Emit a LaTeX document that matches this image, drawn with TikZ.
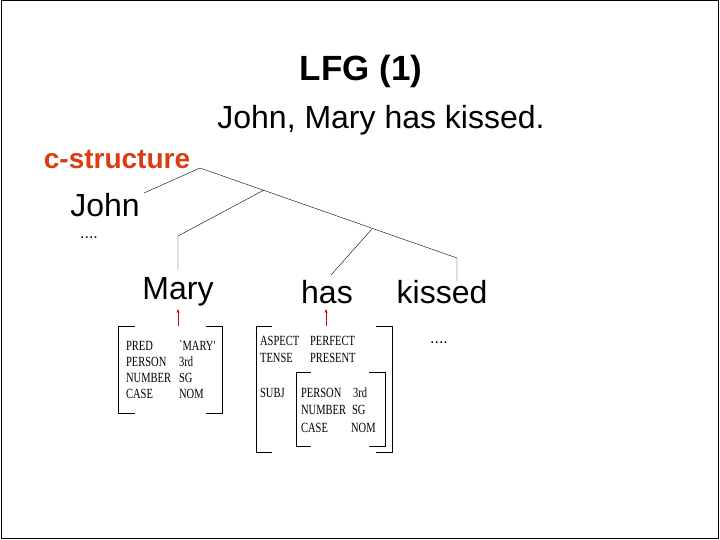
\documentclass[tikz,border=0pt]{standalone}
\usepackage{fontspec}
\usetikzlibrary{arrows.meta}
\setmainfont{Liberation Sans}
\newfontfamily\fsfont{Liberation Serif}
\begin{document}
\begin{tikzpicture}[x=1pt,y=-1pt,
  big/.style={font=\fontsize{32}{34}\selectfont, inner sep=0},
  fs/.style={font=\fsfont\fontsize{14}{15}\selectfont, inner sep=0, anchor=west, xscale=0.75},
  brk/.style={line width=0.9pt},
  redarrow/.style={draw=red!80!black, -{Stealth[length=4pt]}, line width=0.8pt}]
\useasboundingbox (0,0) rectangle (720,540);
\draw[line width=1pt] (1,1) rectangle (718,538);
\node[font=\bfseries\fontsize{35}{37}\selectfont] (title) at (361,71) {LFG (1)};
\node[font=\fontsize{32}{34}\selectfont] (sent) at (381,120) {John, Mary has kissed.};
\node[font=\bfseries\fontsize{28}{30}\selectfont, text={rgb,255:red,220;green,60;blue,20}] (cs) at (117,160) {c-structure};
\node[big] (john) at (105,205) {John};
\node[font=\fontsize{16}{17}\selectfont] (jd) at (89,238) {....};
\node[big] (mary) at (178,292) {Mary};
\node[big] (has) at (327,292) {has};
\node[big] (kissed) at (442,292) {kissed};
\node[font=\fontsize{16}{17}\selectfont] (kd) at (439,343) {....};
\coordinate (root) at (200,168);
\coordinate (n1) at (264,190);
\coordinate (n2) at (372,229);
\coordinate (jend) at (144,193);
\draw (jend) -- (root) -- (457,258) -- (457,281);
\draw (n1) -- (178,236) -- (178,270);
\draw (n2) -- (331,275);
% Mary fstructure
\draw[brk] (135,326) -- (118,326) -- (118,413) -- (135,413);
\draw[brk] (206,326) -- (222,326) -- (222,413) -- (206,413);
\node[fs] (m1) at (126,346) {PRED};
\node[fs] (m2) at (126,362) {PERSON};
\node[fs] (m3) at (126,378) {NUMBER};
\node[fs] (m4) at (126,394) {CASE};
\node[fs] (v1) at (179,346) {`MARY'};
\node[fs] (v2) at (179,362) {3rd};
\node[fs] (v3) at (179,378) {SG};
\node[fs] (v4) at (179,394) {NOM};
% has fstructure
\draw[brk] (272,326) -- (256,326) -- (256,452) -- (272,452);
\draw[brk] (376,326) -- (392,326) -- (392,452) -- (376,452);
\draw[brk] (311,372) -- (296,372) -- (296,446) -- (311,446);
\draw[brk] (369,372) -- (385,372) -- (385,446) -- (369,446);
\node[fs] (h1) at (260,341) {ASPECT};
\node[fs] (h2) at (260,358) {TENSE};
\node[fs] (h3) at (260,393) {SUBJ};
\node[fs] (hv1) at (310,341) {PERFECT};
\node[fs] (hv2) at (310,358) {PRESENT};
\node[fs] (s1) at (301,393) {PERSON};
\node[fs] (s2) at (301,410) {NUMBER};
\node[fs] (s3) at (301,428) {CASE};
\node[fs] (sv1) at (353,393) {3rd};
\node[fs] (sv2) at (352,410) {SG};
\node[fs] (sv3) at (351,428) {NOM};
\coordinate (ma) at (178,326);
\coordinate (ha) at (326,326);
\draw[redarrow] (ma) -- (178,309);
\draw[redarrow] (ha) -- (326,309);
\end{tikzpicture}
\end{document}
